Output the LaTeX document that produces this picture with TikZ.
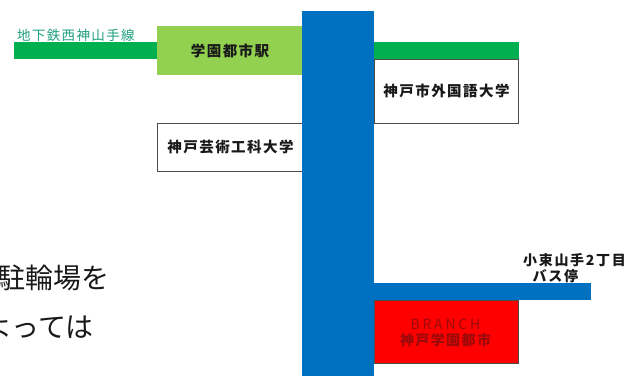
\documentclass[tikz,border=0pt]{standalone}
\usepackage{fontspec}
\setmainfont{Noto Sans CJK JP}
\newfontfamily\jpsp[LetterSpace=10]{Noto Sans CJK JP}
\newfontfamily\jpwide[LetterSpace=20]{Noto Sans CJK JP}
\newfontfamily\jpmid[LetterSpace=12]{Noto Sans CJK JP}
\definecolor{roadblue}{HTML}{0070C0}
\definecolor{railgreen}{HTML}{00B050}
\definecolor{stationgreen}{HTML}{92D050}
\definecolor{branchred}{HTML}{FF0000}
\definecolor{branchtext}{HTML}{9A0A0A}
\definecolor{linetext}{HTML}{20A080}
\tikzset{
  x=1pt,y=-1pt,
  fillbar/.style={fill=#1,draw=none},
  boxlabel/.style={font=\jpsp\fontsize{14.5}{16}\selectfont\bfseries,text=black!90,inner sep=0pt},
  whitebox/.style={fill=white,draw=black!70,line width=0.8pt},
  biglabel/.style={font=\fontsize{28}{30}\selectfont,text=black!90,inner sep=0pt,anchor=east},
  linelabel/.style={font=\jpsp\fontsize{13.5}{15}\selectfont,text=linetext,inner sep=0pt,anchor=west},
  stoplabel/.style={font=\jpmid\fontsize{14}{15}\selectfont\bfseries,text=black!90,inner sep=0pt,anchor=west},
  branchlatin/.style={font=\jpwide\fontsize{14}{15}\selectfont,text=branchtext,inner sep=0pt},
  branchjp/.style={font=\jpsp\fontsize{14}{15}\selectfont\bfseries,text=branchtext,inner sep=0pt}
}
\begin{document}
\begin{tikzpicture}
\useasboundingbox (0,0) rectangle (640,376);
\fill[white] (0,0) rectangle (640,376);
\begin{scope}
\clip (0,0) rectangle (640,376);
\node[biglabel] (t1) at (110,278) {駐輪場を};
\node[biglabel] (t2) at (94,327) {よっては};
\end{scope}
\fill[fillbar=railgreen] (14,42) rectangle (157,59);
\fill[fillbar=stationgreen] (157,26) rectangle (302,75);
\fill[fillbar=railgreen] (374,42) rectangle (519,59);
\draw[whitebox] (157,123) rectangle (302,171);
\draw[whitebox] (374,59) rectangle (518.5,123);
\fill[fillbar=roadblue] (374,283) rectangle (591,300);
\draw[fill=branchred,draw=black!70,line width=0.6pt] (374,300) rectangle (518.5,363.5);
\fill[fillbar=roadblue] (302,11) rectangle (374,376);
\node[boxlabel] (station) at (230,51) {学園都市駅};
\node[boxlabel] (art) at (230.5,147.5) {神戸芸術工科大学};
\node[boxlabel] (foreign) at (446.5,91) {神戸市外国語大学};
\node[linelabel] (line) at (17,35.5) {地下鉄西神山手線};
\node[stoplabel] (stop1) at (523,260) {小束山手2丁目};
\node[stoplabel] (stop2) at (532.5,276) {バス停};
\node[branchlatin] (br1) at (445.5,324) {BRANCH};
\node[branchjp] (br2) at (445.5,340) {神戸学園都市};
\end{tikzpicture}
\end{document}
